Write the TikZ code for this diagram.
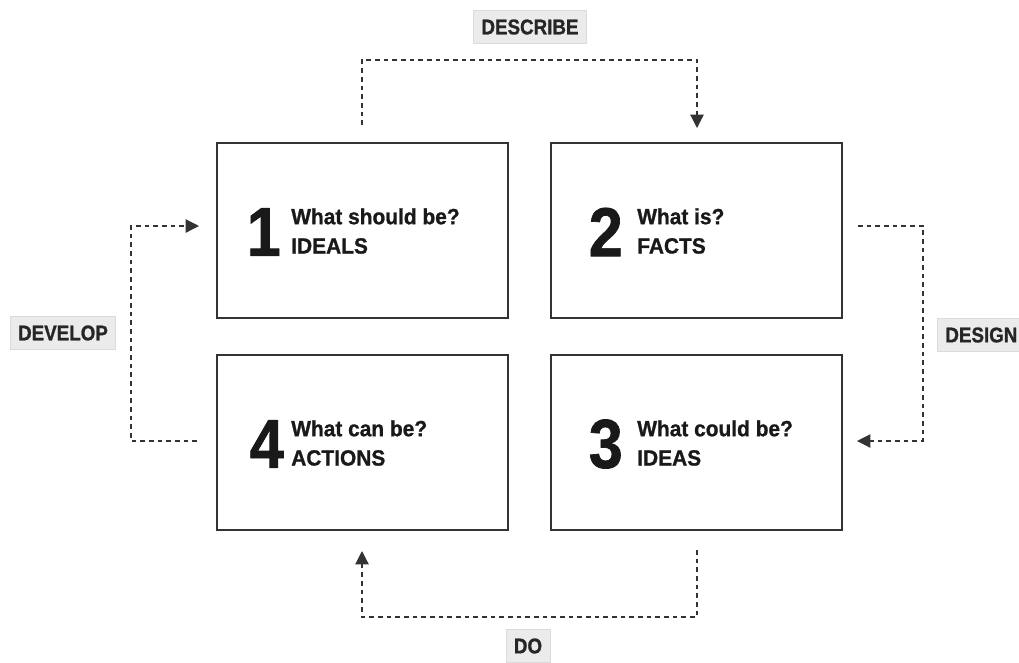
\documentclass[tikz,border=0pt]{standalone}
\usepackage{fontspec}
\setmainfont{Liberation Sans}
\newfontfamily\tagfont{Liberation Sans}[FakeStretch=0.88, FakeBold=1]
\newfontfamily\heavyfont{Liberation Sans}[FakeStretch=0.95, FakeBold=1]
\usetikzlibrary{arrows.meta}

\begin{document}
\begin{tikzpicture}[x=0.75pt,y=0.75pt,yscale=-1,xscale=1,
  quadbox/.style={draw=black!80, line width=1.1pt, minimum width=218pt, minimum height=131pt, inner sep=0pt},
  bignum/.style={anchor=east, inner sep=0pt, font=\tagfont\fontsize{52}{52}\selectfont\bfseries, text=black!90},
  question/.style={anchor=west, inner sep=0pt, align=left, font=\heavyfont\fontsize{16.5}{22}\selectfont\bfseries, text=black!90},
  steptag/.style={fill=black!8, draw=black!14, line width=0.6pt, inner xsep=6pt, minimum height=25pt, font=\tagfont\fontsize{16}{16}\selectfont\bfseries, text=black!85},
  loopline/.style={draw=black!80, line width=0.9pt, dash pattern=on 3.5pt off 3pt, -{Triangle[length=10pt,width=10pt]}}]
\useasboundingbox (0,0) rectangle (1019,662);

%Shape: Rectangle [id:quad1]
\node [quadbox] (ideals) at (362.5,230.5) {};
%Shape: Rectangle [id:quad2]
\node [quadbox] (facts) at (696.5,230.5) {};
%Shape: Rectangle [id:quad3]
\node [quadbox] (ideas) at (696.5,442.5) {};
%Shape: Rectangle [id:quad4]
\node [quadbox] (actions) at (362.5,442.5) {};

% Text Node
\node [bignum] (n1) at (281,232) {1};
\node [question] (q1) at (291,231) {What should be?\\IDEALS};
% Text Node
\node [bignum] (n2) at (623,232) {2};
\node [question] (q2) at (637,231) {What is?\\FACTS};
% Text Node
\node [bignum] (n3) at (623,444) {3};
\node [question] (q3) at (637,443) {What could be?\\IDEAS};
% Text Node
\node [bignum] (n4) at (284,444) {4};
\node [question] (q4) at (291,443) {What can be?\\ACTIONS};

%Ends of the dashed loop lines
\coordinate (descStart) at (362,125);
\coordinate (descEnd) at (697,128);
\coordinate (desiStart) at (858,226);
\coordinate (desiEnd) at (857,441);
\coordinate (doStart) at (697,550);
\coordinate (doEnd) at (362,551);
\coordinate (devStart) at (197,441);
\coordinate (devEnd) at (199,226);

%Dashed loop lines
\draw [loopline] (descStart) -- (362,60) -- (697,60) -- (descEnd);
\draw [loopline] (desiStart) -- (923,226) -- (923,441) -- (desiEnd);
\draw [loopline] (doStart) -- (697,617) -- (362,617) -- (doEnd);
\draw [loopline] (devStart) -- (131,441) -- (131,226) -- (devEnd);

% Text Node
\node [steptag] (describe) at (530,27) {DESCRIBE};
% Text Node
\node [steptag, anchor=west] (design) at (937,335) {DESIGN};
% Text Node
\node [steptag] (do) at (528,646) {DO};
% Text Node
\node [steptag] (develop) at (63,333) {DEVELOP};
\end{tikzpicture}
\end{document}
